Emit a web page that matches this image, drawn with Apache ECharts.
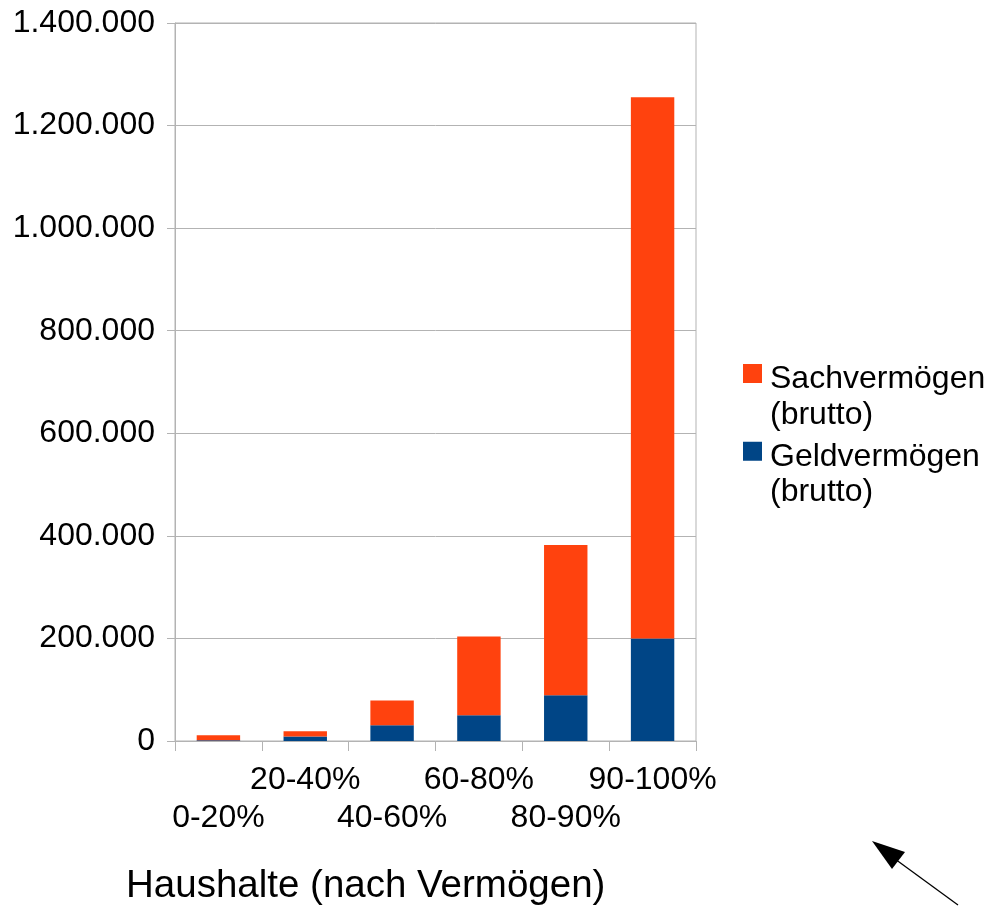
<!DOCTYPE html>
<html>
<head>
<meta charset="utf-8">
<script src="https://cdn.jsdelivr.net/npm/echarts@6/dist/echarts.min.js"></script>
<style>
  html, body { margin: 0; padding: 0; background: #ffffff; }
  #chart { width: 986px; height: 906px; }
</style>
</head>
<body>
<div id="chart"></div>
<script>
// Household wealth by wealth bracket (gross), stacked
const categories = ['0-20%', '20-40%', '40-60%', '60-80%', '80-90%', '90-100%'];
const geldvermoegen = [1300, 9000, 30500, 50000, 89000, 200000];
const sachvermoegen = [9700, 10000, 48500, 154000, 293000, 1055000];
const yTicks = { min: 0, max: 1400000, interval: 200000 };

const seriesNames = ['Geldvermögen (brutto)', 'Sachvermögen (brutto)'];
const FONT = '"Liberation Sans", Arial, sans-serif';

function formatDE(v) {
  return String(Math.round(v)).replace(/\B(?=(\d{3})+(?!\d))/g, '.');
}

const chart = echarts.init(document.getElementById('chart'), null, { renderer: 'canvas' });

chart.setOption({
  backgroundColor: '#ffffff',
  animation: false,
  textStyle: { fontFamily: FONT },
  title: {
    text: 'Haushalte (nach Vermögen)',
    left: 121,
    top: 862,
    textStyle: { fontFamily: FONT, fontSize: 38.5, fontWeight: 'normal', color: '#000000' }
  },
  grid: {
    left: 175, right: 290, top: 23, bottom: 165,
    show: true, borderColor: '#b3b3b3', borderWidth: 1,
    containLabel: false
  },
  legend: {
    orient: 'vertical',
    left: 743,
    top: 332,
    padding: 0,
    data: [seriesNames[1], seriesNames[0]],
    icon: 'rect',
    itemWidth: 19,
    itemHeight: 19,
    itemGap: -21,
    // a spacer line above keeps the first text line level with the colour key
    formatter: name => {
      const parts = name.split(' ');
      return '{s| }\n{t|' + parts[0] + '}\n{t|' + parts[1] + '}';
    },
    textStyle: {
      fontFamily: FONT, fontSize: 32, color: '#000000',
      rich: {
        s: { fontSize: 12, lineHeight: 47 },
        t: { fontFamily: FONT, fontSize: 32, color: '#000000', lineHeight: 35.5, padding: [0, 0, 0, 3] }
      }
    }
  },
  xAxis: {
    type: 'category',
    data: categories,
    axisLine: { lineStyle: { color: '#b3b3b3', width: 1 } },
    axisTick: { show: true, length: 10, lineStyle: { color: '#b3b3b3' } },
    axisLabel: {
      interval: 0,
      margin: 20,
      color: '#000000',
      fontFamily: FONT,
      fontSize: 32,
      lineHeight: 38,
      formatter: (value, index) => (index % 2 === 0 ? '\n' + value : value)
    },
    splitLine: { show: false }
  },
  yAxis: {
    type: 'value',
    min: yTicks.min,
    max: yTicks.max,
    interval: yTicks.interval,
    axisLine: { show: true, lineStyle: { color: '#b3b3b3', width: 1 } },
    axisTick: { show: true, length: 8, lineStyle: { color: '#b3b3b3' } },
    axisLabel: {
      margin: 20,
      color: '#000000',
      fontFamily: FONT,
      fontSize: 32,
      formatter: v => formatDE(v)
    },
    splitLine: { show: true, lineStyle: { color: '#b3b3b3', width: 1 } }
  },
  series: [
    {
      name: seriesNames[0],
      type: 'bar',
      stack: 'wealth',
      barWidth: '50%',
      itemStyle: { color: '#004586' },
      data: geldvermoegen
    },
    {
      name: seriesNames[1],
      type: 'bar',
      stack: 'wealth',
      barWidth: '50%',
      itemStyle: { color: '#ff420e' },
      data: sachvermoegen
    }
  ],
  graphic: [
    {
      type: 'line',
      shape: { x1: 958, y1: 905, x2: 895, y2: 859 },
      style: { stroke: '#000000', lineWidth: 1.3 }
    },
    {
      type: 'polygon',
      shape: { points: [[872, 841], [905, 852], [892, 869]] },
      style: { fill: '#000000' }
    }
  ]
});
</script>
</body>
</html>
